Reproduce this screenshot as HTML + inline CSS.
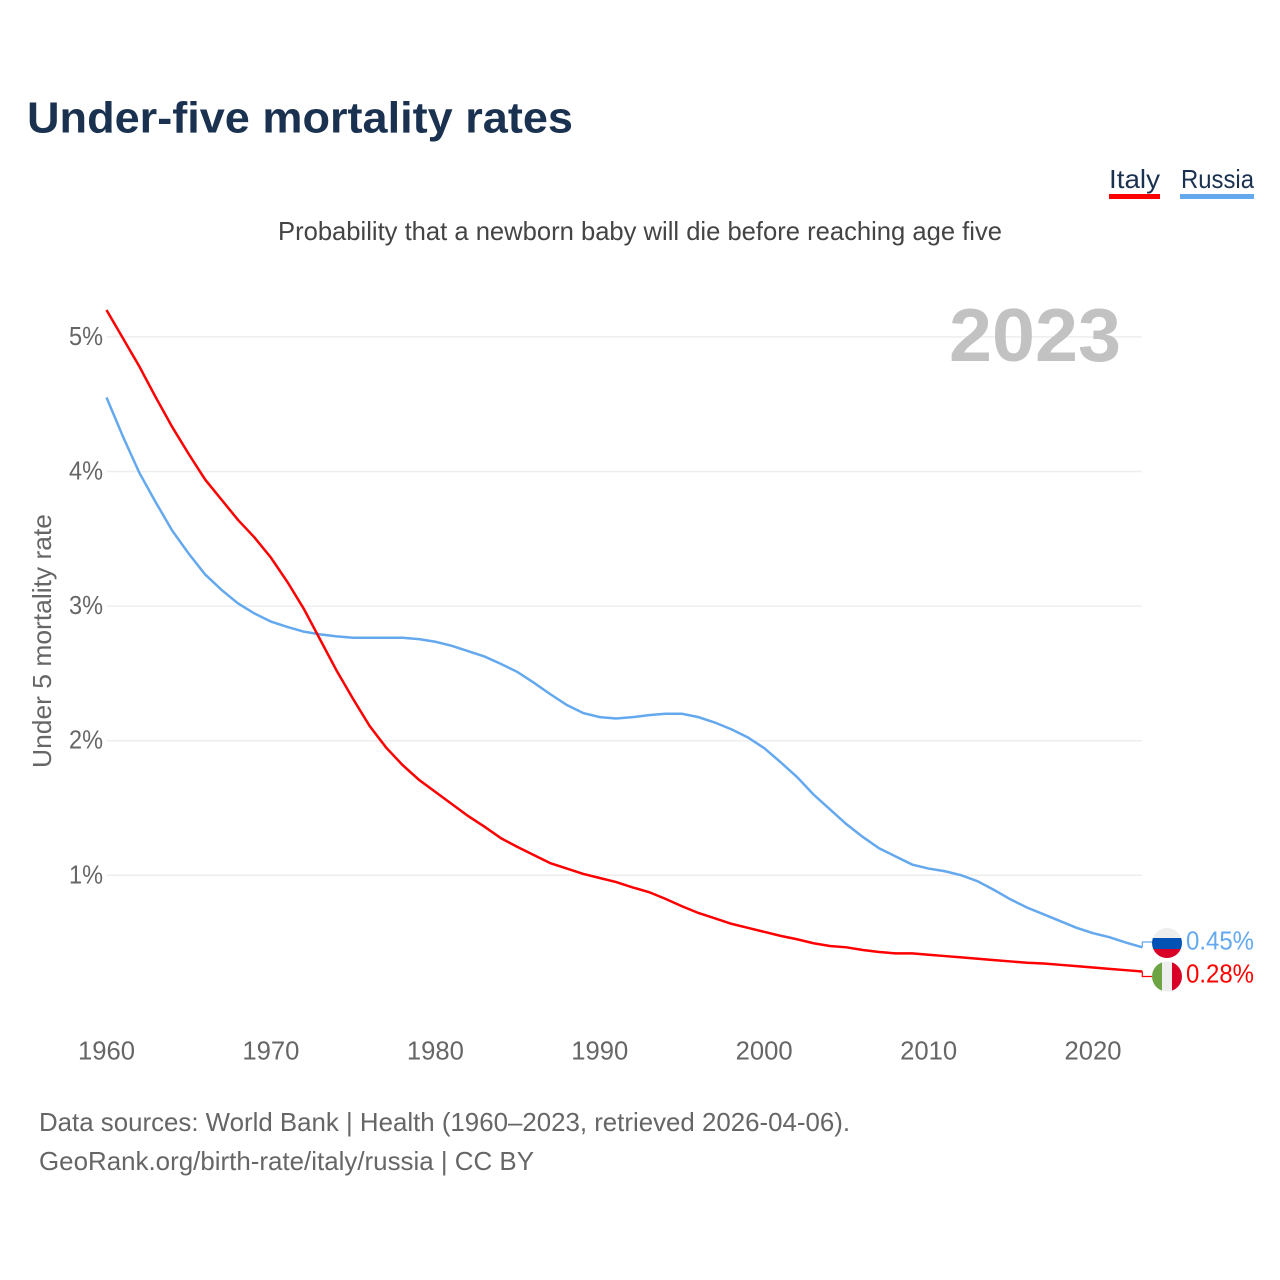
<!DOCTYPE html>
<html lang="en">
<head>
<meta charset="utf-8">
<title>Under-five mortality rates</title>
<style>
html,body{margin:0;padding:0;background:#fff;width:1280px;height:1280px;overflow:hidden}
svg{display:block}
text{font-family:"Liberation Sans",sans-serif}
</style>
</head>
<body>
<svg id="chart" width="1280" height="1280" viewBox="0 0 1280 1280" xmlns="http://www.w3.org/2000/svg">
  <defs>
    <clipPath id="clip-ru"><circle cx="1167" cy="943" r="15"/></clipPath>
    <clipPath id="clip-it"><circle cx="1167" cy="976.5" r="15"/></clipPath>
  </defs>
  <text x="27" y="132.5" font-size="44" font-weight="bold" fill="#1a3150" textLength="546" lengthAdjust="spacingAndGlyphs">Under-five mortality rates</text>
  <text x="278" y="240" font-size="26" fill="#444" textLength="724" lengthAdjust="spacingAndGlyphs">Probability that a newborn baby will die before reaching age five</text>

  <g>
    <g>
      <text x="1109" y="188" font-size="26" fill="#1a3150" textLength="51" lengthAdjust="spacingAndGlyphs">Italy</text>
      <rect x="1109" y="194" width="51" height="5" fill="#ff0000"/>
    </g>
    <g>
      <text x="1181" y="188" font-size="26" fill="#1a3150" textLength="73" lengthAdjust="spacingAndGlyphs">Russia</text>
      <rect x="1180" y="194" width="74" height="5" fill="#64a8ee"/>
    </g>
  </g>

  <g id="grid"></g>
  <g id="yticks"></g>
  <g id="xticks"></g>
  <text transform="translate(51,768) rotate(-90)" x="0" y="0" font-size="26" fill="#666" textLength="254" lengthAdjust="spacingAndGlyphs">Under 5 mortality rate</text>

  <text x="949" y="361" font-size="75" font-weight="bold" fill="#c2c2c2" textLength="172" lengthAdjust="spacingAndGlyphs">2023</text>

  <g id="series"></g>

  <g clip-path="url(#clip-ru)">
    <rect x="1152" y="928" width="30" height="10" fill="#eeeeee"/>
    <rect x="1152" y="938" width="30" height="11" fill="#0052b4"/>
    <rect x="1152" y="949" width="30" height="10" fill="#d80027"/>
  </g>
  <g clip-path="url(#clip-it)">
    <rect x="1152" y="961" width="10" height="31" fill="#6da544"/>
    <rect x="1162" y="961" width="10" height="31" fill="#eeeeee"/>
    <rect x="1172" y="961" width="10" height="31" fill="#d80027"/>
  </g>
  <text id="label-ru" x="1186" y="949.5" font-size="26" fill="#64a8ee" textLength="68" lengthAdjust="spacingAndGlyphs"></text>
  <text id="label-it" x="1186" y="982.5" font-size="26" fill="#ff0000" textLength="68" lengthAdjust="spacingAndGlyphs"></text>

  <text x="39" y="1131" font-size="26" fill="#666" textLength="811" lengthAdjust="spacingAndGlyphs">Data sources: World Bank | Health (1960–2023, retrieved 2026-04-06).</text>
  <text x="39" y="1170" font-size="26" fill="#666" textLength="495" lengthAdjust="spacingAndGlyphs">GeoRank.org/birth-rate/italy/russia | CC BY</text>
</svg>
<script>
const startYear = 1960;
const xTickLabels = [1960, 1970, 1980, 1990, 2000, 2010, 2020];
const yTickValues = [1, 2, 3, 4, 5];
const italyValues = [5.20,4.99,4.78,4.55,4.33,4.13,3.94,3.79,3.64,3.51,3.36,3.18,2.98,2.75,2.52,2.31,2.11,1.95,1.82,1.71,1.62,1.53,1.44,1.36,1.275,1.21,1.15,1.09,1.05,1.01,0.98,0.95,0.91,0.875,0.825,0.77,0.72,0.68,0.64,0.61,0.58,0.55,0.525,0.495,0.475,0.465,0.445,0.43,0.42,0.42,0.41,0.40,0.39,0.38,0.37,0.36,0.35,0.345,0.335,0.325,0.315,0.305,0.295,0.285];
const russiaValues = [4.55,4.26,3.99,3.77,3.56,3.39,3.235,3.12,3.02,2.945,2.885,2.845,2.81,2.79,2.775,2.765,2.765,2.765,2.765,2.755,2.735,2.705,2.665,2.625,2.57,2.51,2.43,2.345,2.265,2.205,2.175,2.165,2.175,2.19,2.20,2.20,2.175,2.135,2.085,2.025,1.945,1.84,1.73,1.60,1.49,1.38,1.285,1.20,1.14,1.08,1.05,1.03,1.00,0.955,0.89,0.82,0.76,0.71,0.66,0.61,0.57,0.54,0.50,0.465];
const italyEndLabel = "0.28%";
const russiaEndLabel = "0.45%";

const NS = "http://www.w3.org/2000/svg";
function xPos(year) { return 106.5 + (year - 1960) * (1093 - 106.5) / 60; }
function yPos(v) { return 1009.9 - v * 134.6; }
function make(tag, parent) {
  const el = document.createElementNS(NS, tag);
  parent.appendChild(el);
  return el;
}

const gridGroup = document.getElementById("grid");
const yGroup = document.getElementById("yticks");
yTickValues.forEach(function (v) {
  const line = make("line", gridGroup);
  
  
  line.setAttribute("x1", 107);
  line.setAttribute("x2", 1142);
  line.setAttribute("y1", yPos(v));
  line.setAttribute("y2", yPos(v));
  line.setAttribute("stroke", "#eeeeee");
  line.setAttribute("stroke-width", 1.5);
  const t = make("text", yGroup);
  
  
  t.setAttribute("x", 69);
  t.setAttribute("y", yPos(v) + 8);
  t.setAttribute("font-size", 26);
  t.setAttribute("fill", "#666");
  t.setAttribute("textLength", 34);
  t.setAttribute("lengthAdjust", "spacingAndGlyphs");
  t.textContent = v + "%";
});

const xGroup = document.getElementById("xticks");
xTickLabels.forEach(function (year) {
  const t = make("text", xGroup);
  
  
  t.setAttribute("x", xPos(year) - 28.5);
  t.setAttribute("y", 1059.5);
  t.setAttribute("font-size", 26);
  t.setAttribute("fill", "#666");
  t.setAttribute("textLength", 57);
  t.setAttribute("lengthAdjust", "spacingAndGlyphs");
  t.textContent = year;
});

function linePath(values) {
  return values.map(function (v, i) {
    return (i ? "L" : "M") + xPos(startYear + i).toFixed(2) + " " + yPos(v).toFixed(2);
  }).join(" ");
}

const seriesGroup = document.getElementById("series");

const russiaLine = make("path", seriesGroup);


russiaLine.setAttribute("d", linePath(russiaValues));
russiaLine.setAttribute("fill", "none");
russiaLine.setAttribute("stroke", "#64a8ee");
russiaLine.setAttribute("stroke-width", 2.5);

const italyLine = make("path", seriesGroup);


italyLine.setAttribute("d", linePath(italyValues));
italyLine.setAttribute("fill", "none");
italyLine.setAttribute("stroke", "#ff0000");
italyLine.setAttribute("stroke-width", 2.5);

const lastX = xPos(startYear + russiaValues.length - 1);
const russiaLastY = yPos(russiaValues[russiaValues.length - 1]);
const italyLastY = yPos(italyValues[italyValues.length - 1]);

const russiaConn = make("path", seriesGroup);


russiaConn.setAttribute("d", "M" + lastX + " " + russiaLastY + " V942 H1152");
russiaConn.setAttribute("fill", "none");
russiaConn.setAttribute("stroke", "#64a8ee");
russiaConn.setAttribute("stroke-width", 1.2);

const italyConn = make("path", seriesGroup);


italyConn.setAttribute("d", "M" + lastX + " " + italyLastY + " V976.5 H1152");
italyConn.setAttribute("fill", "none");
italyConn.setAttribute("stroke", "#ff0000");
italyConn.setAttribute("stroke-width", 1.2);

document.getElementById("label-ru").textContent = russiaEndLabel;
document.getElementById("label-it").textContent = italyEndLabel;
</script>
</body>
</html>
